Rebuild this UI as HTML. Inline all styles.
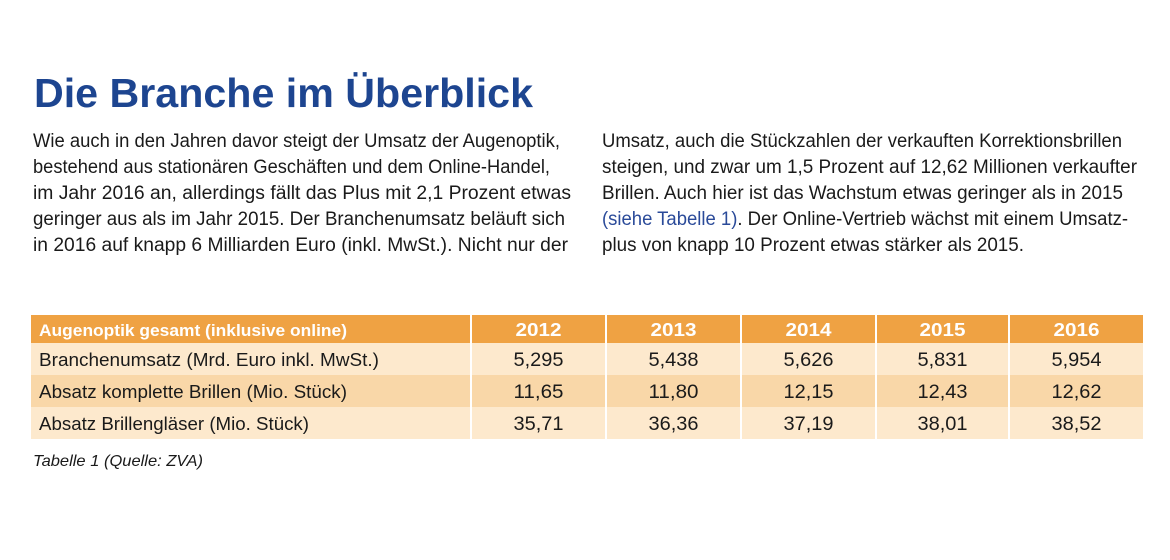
<!DOCTYPE html>
<html>
<head>
<meta charset="utf-8">
<style>
  html, body { margin: 0; padding: 0; background: #ffffff; }
  svg { display: block; }
  .t { font-family: "Liberation Sans", "DejaVu Sans", sans-serif; }
</style>
</head>
<body>
<svg width="1170" height="560" viewBox="0 0 1170 560" xmlns="http://www.w3.org/2000/svg">
  <rect x="0" y="0" width="1170" height="560" fill="#ffffff"/>

  <!-- Title -->
  <text class="t" x="34" y="107" font-size="41" font-weight="bold" fill="#1d4590" textLength="499" lengthAdjust="spacingAndGlyphs">Die Branche im Überblick</text>

  <!-- Left column -->
  <g class="t" font-size="19" fill="#1a1a1a">
    <text x="33" y="147" textLength="527" lengthAdjust="spacingAndGlyphs">Wie auch in den Jahren davor steigt der Umsatz der Augenoptik,</text>
    <text x="33" y="173" textLength="517" lengthAdjust="spacingAndGlyphs">bestehend aus stationären Geschäften und dem Online-Handel,</text>
    <text x="33" y="199" textLength="538" lengthAdjust="spacingAndGlyphs">im Jahr 2016 an, allerdings fällt das Plus mit 2,1 Prozent etwas</text>
    <text x="33" y="225" textLength="532" lengthAdjust="spacingAndGlyphs">geringer aus als im Jahr 2015. Der Branchenumsatz beläuft sich</text>
    <text x="33" y="251" textLength="535" lengthAdjust="spacingAndGlyphs">in 2016 auf knapp 6 Milliarden Euro (inkl. MwSt.). Nicht nur der</text>
  </g>

  <!-- Right column -->
  <g class="t" font-size="19" fill="#1a1a1a">
    <text x="602" y="147" textLength="520" lengthAdjust="spacingAndGlyphs">Umsatz, auch die Stückzahlen der verkauften Korrektionsbrillen</text>
    <text x="602" y="173" textLength="535" lengthAdjust="spacingAndGlyphs">steigen, und zwar um 1,5 Prozent auf 12,62 Millionen verkaufter</text>
    <text x="602" y="199" textLength="521" lengthAdjust="spacingAndGlyphs">Brillen. Auch hier ist das Wachstum etwas geringer als in 2015</text>
    <text x="602" y="225" textLength="526" lengthAdjust="spacingAndGlyphs"><tspan fill="#2a4a99">(siehe Tabelle 1)</tspan>. Der Online-Vertrieb wächst mit einem Umsatz-</text>
    <text x="602" y="251" textLength="422" lengthAdjust="spacingAndGlyphs">plus von knapp 10 Prozent etwas stärker als 2015.</text>
  </g>

  <!-- Table backgrounds -->
  <g>
    <rect x="31" y="315" width="439" height="28" fill="#efa243"/>
    <rect x="472" y="315" width="133" height="28" fill="#efa243"/>
    <rect x="607" y="315" width="133" height="28" fill="#efa243"/>
    <rect x="742" y="315" width="133" height="28" fill="#efa243"/>
    <rect x="877" y="315" width="131" height="28" fill="#efa243"/>
    <rect x="1010" y="315" width="133" height="28" fill="#efa243"/>

    <rect x="31" y="343" width="439" height="32" fill="#fde9cd"/>
    <rect x="472" y="343" width="133" height="32" fill="#fde9cd"/>
    <rect x="607" y="343" width="133" height="32" fill="#fde9cd"/>
    <rect x="742" y="343" width="133" height="32" fill="#fde9cd"/>
    <rect x="877" y="343" width="131" height="32" fill="#fde9cd"/>
    <rect x="1010" y="343" width="133" height="32" fill="#fde9cd"/>

    <rect x="31" y="375" width="439" height="32" fill="#f9d7a8"/>
    <rect x="472" y="375" width="133" height="32" fill="#f9d7a8"/>
    <rect x="607" y="375" width="133" height="32" fill="#f9d7a8"/>
    <rect x="742" y="375" width="133" height="32" fill="#f9d7a8"/>
    <rect x="877" y="375" width="131" height="32" fill="#f9d7a8"/>
    <rect x="1010" y="375" width="133" height="32" fill="#f9d7a8"/>

    <rect x="31" y="407" width="439" height="32" fill="#fde9cd"/>
    <rect x="472" y="407" width="133" height="32" fill="#fde9cd"/>
    <rect x="607" y="407" width="133" height="32" fill="#fde9cd"/>
    <rect x="742" y="407" width="133" height="32" fill="#fde9cd"/>
    <rect x="877" y="407" width="131" height="32" fill="#fde9cd"/>
    <rect x="1010" y="407" width="133" height="32" fill="#fde9cd"/>
  </g>

  <!-- Header text -->
  <g class="t" font-size="17" font-weight="bold" fill="#ffffff">
    <text x="39" y="336" textLength="308" lengthAdjust="spacingAndGlyphs">Augenoptik gesamt (inklusive online)</text>
    <g font-size="18">
      <text x="538.5" y="336" text-anchor="middle" textLength="46" lengthAdjust="spacingAndGlyphs">2012</text>
      <text x="673.5" y="336" text-anchor="middle" textLength="46" lengthAdjust="spacingAndGlyphs">2013</text>
      <text x="808.5" y="336" text-anchor="middle" textLength="46" lengthAdjust="spacingAndGlyphs">2014</text>
      <text x="942.5" y="336" text-anchor="middle" textLength="46" lengthAdjust="spacingAndGlyphs">2015</text>
      <text x="1076.5" y="336" text-anchor="middle" textLength="46" lengthAdjust="spacingAndGlyphs">2016</text>
    </g>
  </g>

  <!-- Row text -->
  <g class="t" font-size="18" fill="#1a1a1a">
    <text x="39" y="366" textLength="340" lengthAdjust="spacingAndGlyphs">Branchenumsatz (Mrd. Euro inkl. MwSt.)</text>
    <text x="39" y="398" textLength="308" lengthAdjust="spacingAndGlyphs">Absatz komplette Brillen (Mio. Stück)</text>
    <text x="39" y="430" textLength="270" lengthAdjust="spacingAndGlyphs">Absatz Brillengläser (Mio. Stück)</text>
  </g>
  <g class="t" font-size="19" fill="#1a1a1a">
    <text x="538.5" y="366" text-anchor="middle" textLength="50" lengthAdjust="spacingAndGlyphs">5,295</text>
    <text x="673.5" y="366" text-anchor="middle" textLength="50" lengthAdjust="spacingAndGlyphs">5,438</text>
    <text x="808.5" y="366" text-anchor="middle" textLength="50" lengthAdjust="spacingAndGlyphs">5,626</text>
    <text x="942.5" y="366" text-anchor="middle" textLength="50" lengthAdjust="spacingAndGlyphs">5,831</text>
    <text x="1076.5" y="366" text-anchor="middle" textLength="50" lengthAdjust="spacingAndGlyphs">5,954</text>

    <text x="538.5" y="398" text-anchor="middle" textLength="50" lengthAdjust="spacingAndGlyphs">11,65</text>
    <text x="673.5" y="398" text-anchor="middle" textLength="50" lengthAdjust="spacingAndGlyphs">11,80</text>
    <text x="808.5" y="398" text-anchor="middle" textLength="50" lengthAdjust="spacingAndGlyphs">12,15</text>
    <text x="942.5" y="398" text-anchor="middle" textLength="50" lengthAdjust="spacingAndGlyphs">12,43</text>
    <text x="1076.5" y="398" text-anchor="middle" textLength="50" lengthAdjust="spacingAndGlyphs">12,62</text>

    <text x="538.5" y="430" text-anchor="middle" textLength="50" lengthAdjust="spacingAndGlyphs">35,71</text>
    <text x="673.5" y="430" text-anchor="middle" textLength="50" lengthAdjust="spacingAndGlyphs">36,36</text>
    <text x="808.5" y="430" text-anchor="middle" textLength="50" lengthAdjust="spacingAndGlyphs">37,19</text>
    <text x="942.5" y="430" text-anchor="middle" textLength="50" lengthAdjust="spacingAndGlyphs">38,01</text>
    <text x="1076.5" y="430" text-anchor="middle" textLength="50" lengthAdjust="spacingAndGlyphs">38,52</text>
  </g>

  <!-- Caption -->
  <text class="t" x="33" y="466" font-size="16" font-style="italic" fill="#1a1a1a" textLength="170" lengthAdjust="spacingAndGlyphs">Tabelle 1 (Quelle: ZVA)</text>
</svg>
</body>
</html>
